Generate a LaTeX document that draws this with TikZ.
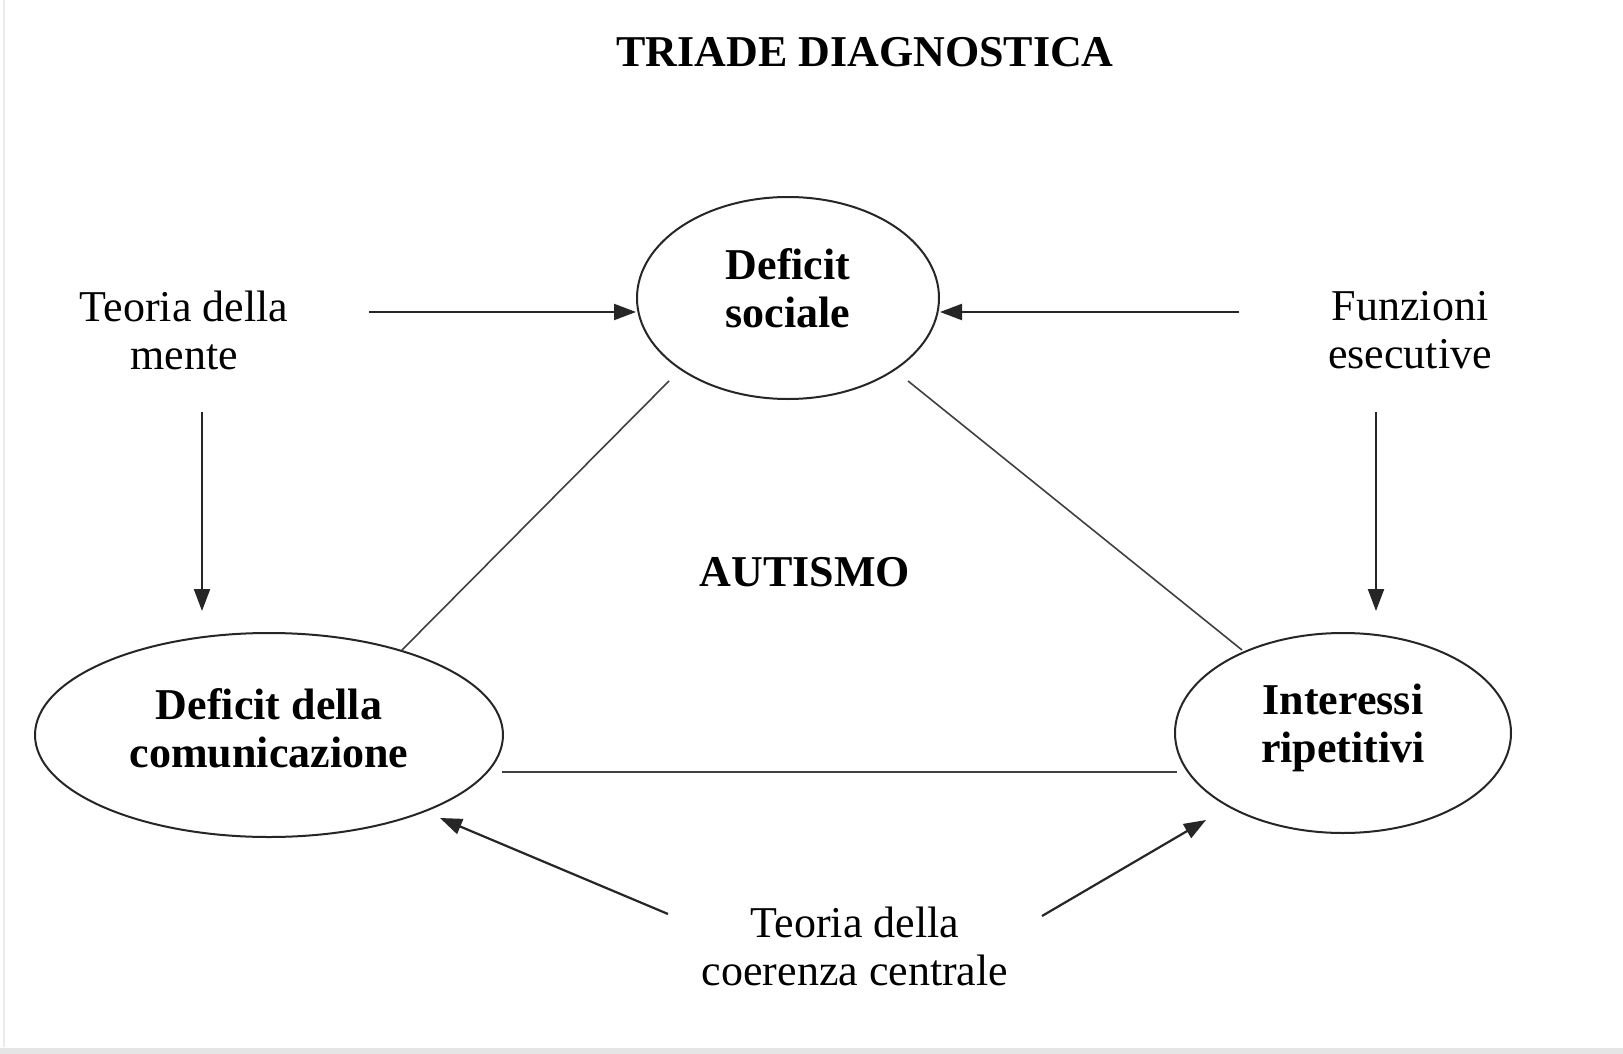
\documentclass[tikz,border=0pt]{standalone}
\usepackage{fontspec}
\setmainfont{Liberation Serif}
\usetikzlibrary{shapes.geometric,arrows.meta}
\begin{document}
\begin{tikzpicture}[x=0.5pt,y=-0.5pt,
  lbl/.style={font=\fontsize{22}{24}\selectfont, align=center, inner sep=0pt},
  blbl/.style={font=\fontsize{22}{24}\selectfont\bfseries, align=center, inner sep=0pt},
  oval/.style={ellipse, draw=black!85, line width=1pt, inner sep=0pt,
    font=\fontsize{22}{24}\selectfont\bfseries, align=center},
  arr/.style={-{Triangle[length=11pt,width=8pt]}, line width=1.1pt, draw=black!85},
  side/.style={line width=0.8pt, draw=black!75}]
\useasboundingbox (0,0) rectangle (1623,1054);
\fill[white] (0,0) rectangle (1623,1054);
\draw[black!8, line width=0.6pt] (4,0) -- (4,1047);
\fill[black!10] (0,1048) rectangle (1623,1054);

% title and centre
\node[blbl] (title) at (865,52) {TRIADE DIAGNOSTICA};
\node[blbl] (autismo) at (805,572) {AUTISMO};

% ellipses
\node[oval, minimum width=151pt, minimum height=101pt] (sociale) at (788,298)
  {Deficit\\sociale\rule[-10pt]{0pt}{0pt}};
\node[oval, minimum width=234pt, minimum height=102pt] (comm) at (269,735)
  {Deficit della\\comunicazione\rule[-7pt]{0pt}{0pt}};
\node[oval, minimum width=168pt, minimum height=100pt] (rip) at (1343,733)
  {Interessi\\ripetitivi\rule[-10pt]{0pt}{0pt}};

% theory labels
\node[lbl] (tm) at (184,330) {Teoria della\\mente};
\node[lbl] (fe) at (1410,330) {Funzioni\\esecutive};
\node[lbl] (cc) at (855,946) {Teoria della\\coerenza centrale};

% connector end points
\coordinate (tmA) at (369,312);
\coordinate (feA) at (1239,312);
\coordinate (tmB) at (202,412);
\coordinate (tmBend) at (202,611);
\coordinate (feB) at (1376,412);
\coordinate (feBend) at (1376,611);
\coordinate (ccL) at (668,914);
\coordinate (ccLend) at (440,818);
\coordinate (ccR) at (1042,916);
\coordinate (ccRend) at (1206,820);
\coordinate (sL) at (669,381);
\coordinate (sR) at (908,381);
\coordinate (cT) at (402,650);
\coordinate (rT) at (1242,650);
\coordinate (cE) at (502,772);
\coordinate (rW) at (1177,772);

% arrows
\draw[arr] (tmA) -- (tmA -| sociale.west);
\draw[arr] (feA) -- (feA -| sociale.east);
\draw[arr] (tmB) -- (tmBend);
\draw[arr] (feB) -- (feBend);
\draw[arr] (ccL) -- (ccLend);
\draw[arr] (ccR) -- (ccRend);

% triangle sides
\draw[side] (sL) -- (cT);
\draw[side] (sR) -- (rT);
\draw[side] (cE) -- (rW);
\end{tikzpicture}
\end{document}
